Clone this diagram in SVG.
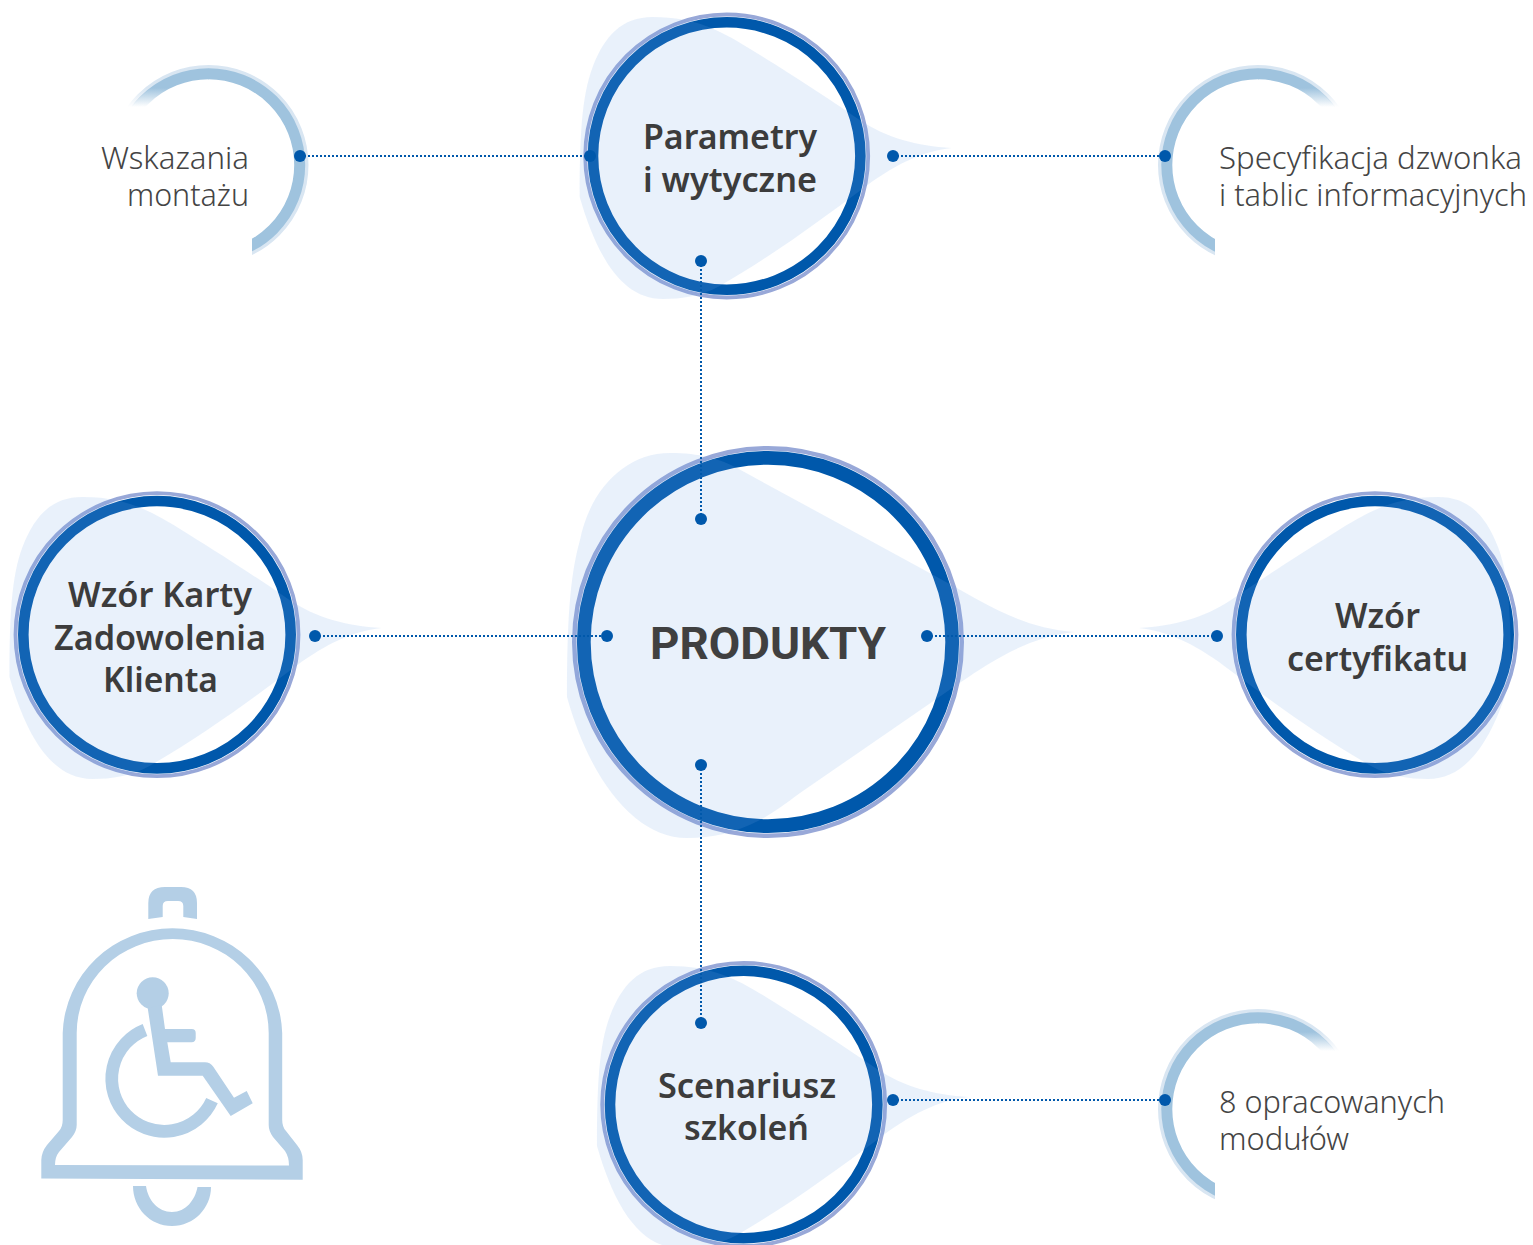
<svg xmlns="http://www.w3.org/2000/svg" width="1533" height="1245" viewBox="0 0 1533 1245">
<style>
.blob{fill:#73A5E5;fill-opacity:.157}
.ring{fill:none;stroke:#0058AB}
.halo{fill:none;stroke:#98A8D8}
.dot{fill:#0058AB}
.link{fill:none;stroke:#0058AB;stroke-width:2;stroke-dasharray:2 2}
.h{font-family:"Noto Sans","Liberation Sans",sans-serif;font-weight:600;fill:#3C3C3C;font-size:35px}
.l{font-family:"Noto Sans","Liberation Sans",sans-serif;font-weight:300;fill:#444;font-size:32px}
.arc{fill:none;stroke-width:11}
.arc2{fill:none;stroke-width:4}
.ic{fill:#B4CFE6}
</style>
<defs>
<path id="b" d="M-74-139C-30-139-5-125 30-103C70-78 95-62 133-36C160-18 190-10 225-8C195-5 165 10 133 35C90 67 45 100-7 130C-25 140-45 143-64 143C-105 143-130 100-147 41C-147-20-145-60-134-89C-122-120-105-139-74-139Z"/>
<linearGradient id="f1" gradientUnits="userSpaceOnUse" x1="0" y1="88" x2="0" y2="107"><stop offset="0" stop-color="#9FC3DE"/><stop offset="1" stop-color="#9FC3DE" stop-opacity="0"/></linearGradient>
<linearGradient id="f2" gradientUnits="userSpaceOnUse" x1="0" y1="88" x2="0" y2="107"><stop offset="0" stop-color="#D9E6F2"/><stop offset="1" stop-color="#D9E6F2" stop-opacity="0"/></linearGradient>
<clipPath id="rs"><path d="M252 55H320V262H252ZM208 55H252V107H208Z"/></clipPath>
<clipPath id="rf"><path d="M100 55H209V107H100Z"/></clipPath>
<clipPath id="ls"><path d="M1120 55H1215V262H1120ZM1215 55H1259V107H1215Z"/></clipPath>
<clipPath id="lf"><path d="M1258 55H1400V107H1258Z"/></clipPath>
<g id="al">
<g clip-path="url(#ls)"><circle cx="1258" cy="165" r="98" class="arc2" stroke="#D9E6F2"/><circle cx="1258" cy="165" r="91.2" class="arc" stroke="#9FC3DE"/></g>
<g clip-path="url(#lf)"><circle cx="1258" cy="165" r="98" class="arc2" stroke="url(#f2)"/><circle cx="1258" cy="165" r="91.2" class="arc" stroke="url(#f1)"/></g>
</g>
</defs>

<g id="node-wskazania">
<g clip-path="url(#rs)"><circle cx="208.5" cy="165" r="98" class="arc2" stroke="#D9E6F2"/><circle cx="208.5" cy="165" r="91.2" class="arc" stroke="#9FC3DE"/></g>
<g clip-path="url(#rf)"><circle cx="208.5" cy="165" r="98" class="arc2" stroke="url(#f2)"/><circle cx="208.5" cy="165" r="91.2" class="arc" stroke="url(#f1)"/></g>
<text class="l" x="249" y="169" text-anchor="end" textLength="148" lengthAdjust="spacingAndGlyphs">Wskazania</text>
<text class="l" x="249" y="206" text-anchor="end" textLength="122" lengthAdjust="spacingAndGlyphs">montażu</text>
</g>
<g id="node-specyfikacja">
<use href="#al"/>
<text class="l" x="1219" y="169" textLength="303" lengthAdjust="spacingAndGlyphs">Specyfikacja dzwonka</text>
<text class="l" x="1219" y="206" textLength="308" lengthAdjust="spacingAndGlyphs">i tablic informacyjnych</text>
</g>
<g id="node-moduly">
<use href="#al" transform="translate(0,944)"/>
<text class="l" x="1219" y="1113" textLength="226" lengthAdjust="spacingAndGlyphs">8 opracowanych</text>
<text class="l" x="1219" y="1150" textLength="130" lengthAdjust="spacingAndGlyphs">modułów</text>
</g>

<g id="node-parametry">
<circle class="halo" cx="726.7" cy="156" r="141.5" stroke-width="3.8"/>
<circle class="ring" cx="726.7" cy="156" r="133.7" stroke-width="10.6"/>
<use href="#b" class="blob" transform="translate(726.7,156)"/>
<text class="h" x="643" y="148.5" textLength="174" lengthAdjust="spacingAndGlyphs">Parametry</text>
<text class="h" x="643" y="192" textLength="174" lengthAdjust="spacingAndGlyphs">i wytyczne</text>
</g>
<g id="node-produkty">
<circle class="halo" cx="768" cy="642" r="193.8" stroke-width="4.4"/>
<circle class="ring" cx="768" cy="642" r="184.2" stroke-width="13.8"/>
<path class="blob" d="M670 453C700 453 720 459 737 468L937 577C985 603 1020 628 1075 632C1030 636 990 662 961 682L800 793C785 804 775 812 760 820C735 833 712 838 687 838C635 838 590 780 567 697C567 620 570 575 580 540C590 490 625 453 670 453Z"/>
<text x="650" y="659" textLength="236" lengthAdjust="spacingAndGlyphs" style="font-family:Roboto,'Liberation Sans',sans-serif;font-weight:700;font-size:45px;fill:#404040">PRODUKTY</text>
</g>
<g id="node-karta">
<circle class="halo" cx="157" cy="634.7" r="141.5" stroke-width="3.8"/>
<circle class="ring" cx="157" cy="634.7" r="133.7" stroke-width="10.6"/>
<use href="#b" class="blob" transform="translate(156.5,636)"/>
<text class="h" x="68" y="607" textLength="184" lengthAdjust="spacingAndGlyphs">Wzór Karty</text>
<text class="h" x="54" y="650" textLength="212" lengthAdjust="spacingAndGlyphs">Zadowolenia</text>
<text class="h" x="103" y="692" textLength="115" lengthAdjust="spacingAndGlyphs">Klienta</text>
</g>
<g id="node-certyfikat">
<circle class="halo" cx="1375" cy="634.7" r="141.5" stroke-width="3.8"/>
<circle class="ring" cx="1375" cy="634.7" r="133.7" stroke-width="10.6"/>
<use href="#b" class="blob" transform="translate(1364,636) scale(-1,1)"/>
<text class="h" x="1335" y="628" textLength="85" lengthAdjust="spacingAndGlyphs">Wzór</text>
<text class="h" x="1287" y="671" textLength="181" lengthAdjust="spacingAndGlyphs">certyfikatu</text>
</g>
<g id="node-scenariusz">
<circle class="halo" cx="743.7" cy="1104.5" r="141.5" stroke-width="3.8"/>
<circle class="ring" cx="743.7" cy="1104.5" r="133.7" stroke-width="10.6"/>
<use href="#b" class="blob" transform="translate(744,1105)"/>
<text class="h" x="658" y="1098" textLength="178" lengthAdjust="spacingAndGlyphs">Scenariusz</text>
<text class="h" x="684" y="1140" textLength="125" lengthAdjust="spacingAndGlyphs">szkoleń</text>
</g>

<g id="connectors">
<path class="link" d="M300 156H590M893 156H1165M701 261V519M315 636H607M927 636H1217M701 765V1023M893 1100H1165"/>
<g class="dot">
<circle cx="300" cy="156" r="6"/><circle cx="590" cy="156" r="6"/><circle cx="893" cy="156" r="6"/><circle cx="1165" cy="156" r="6"/>
<circle cx="701" cy="261" r="6"/><circle cx="701" cy="519" r="6"/>
<circle cx="315" cy="636" r="6"/><circle cx="607" cy="636" r="6"/><circle cx="927" cy="636" r="6"/><circle cx="1217" cy="636" r="6"/>
<circle cx="701" cy="765" r="6"/><circle cx="701" cy="1023" r="6"/>
<circle cx="893" cy="1100" r="6"/><circle cx="1165" cy="1100" r="6"/>
</g>
</g>

<g id="icon">
<path class="ic" fill-rule="evenodd" d="M41.3 1178.5V1160Q41.5 1152 47 1145L59 1131Q62.7 1127 62.7 1120V1033A109.8 108 0 0 1 282.2 1033V1120Q282.2 1127 286 1131L297 1145Q302.7 1152 302.7 1160V1179.7ZM55 1165Q55 1157 59 1152L72 1137Q76.7 1131 76.7 1125V1033A96 94 0 0 1 268.7 1033V1125Q268.7 1131 273 1137L285 1151Q289 1157 289 1165.5Z"/>
<path class="ic" d="M148.3 919V903Q148.3 887 165 887H181Q197 887 197 903V919L183.3 917V906Q183.3 901 178 901H168Q162.7 901 162.7 906V917Z"/>
<path class="ic" d="M133 1186H146C148 1200 158 1212 172 1212C186 1212 195 1200 197.5 1187H211C211 1208 194 1226 172 1226C150 1226 133 1208 133 1186Z"/>
<circle class="ic" cx="152.7" cy="993.3" r="16"/>
<path class="ic" d="M147.7 1008L158 1075.7H202.7L230.7 1116L252.7 1103.3L246.7 1091L234 1097.7L213.3 1066.7Q210 1062.3 205 1062.3H170.7L167.3 1042.3H191.7Q195.7 1042 195.7 1038V1033Q195.7 1029 191.7 1029H165L161.7 1005Z"/>
<path d="M145 1030A52.5 52.5 0 1 0 212 1100.7" fill="none" stroke="#B4CFE6" stroke-width="12.7"/>
</g>
</svg>
